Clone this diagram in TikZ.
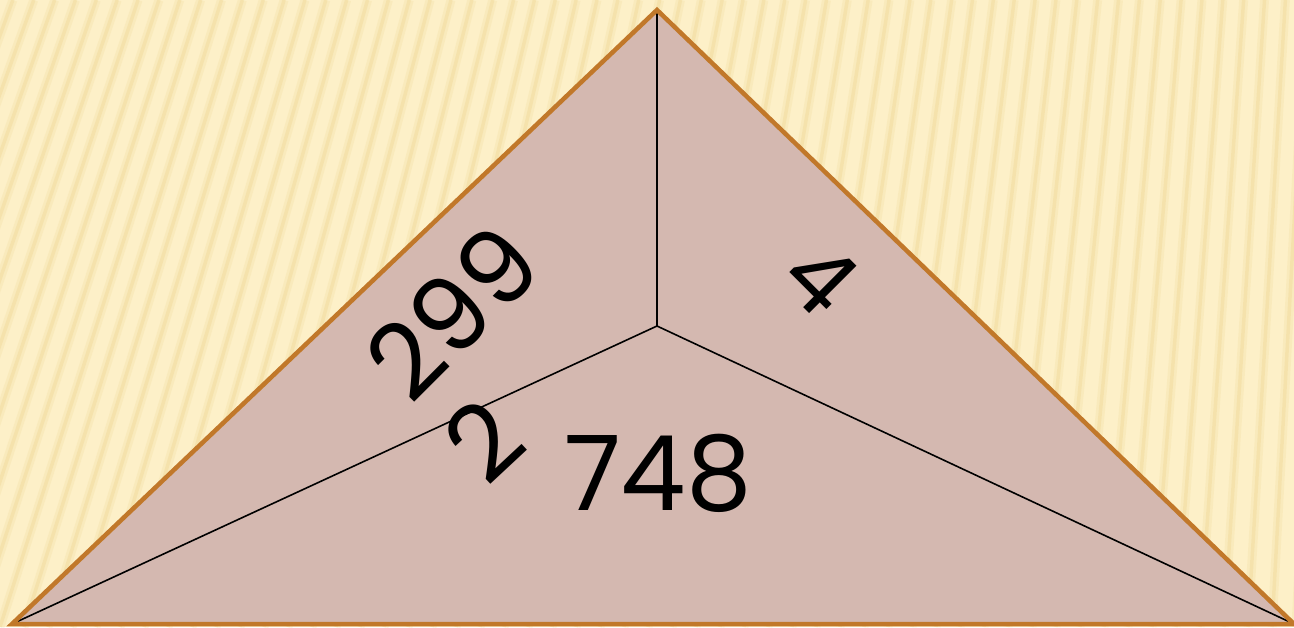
\documentclass[tikz,border=0pt]{standalone}
\usepackage{fontspec}
\setmainfont{Poppins}
\definecolor{bgbase}{RGB}{253,240,200}
\definecolor{stripe}{RGB}{236,210,138}
\definecolor{face}{RGB}{212,184,176}
\definecolor{edge}{RGB}{193,120,42}
\tikzset{
  numtext/.style={font=\fontsize{104}{104}\selectfont, text=black, inner sep=0pt},
  innerline/.style={black, line width=1.6pt},
  rim/.style={edge, line width=4.5pt, line join=miter},
  softstripe/.style={stripe, line width=9pt, opacity=0.18},
  corestripe/.style={stripe, line width=3.5pt, opacity=0.3}
}
\begin{document}
\begin{tikzpicture}[x=1pt,y=-1pt]
\useasboundingbox (0,0) rectangle (1294,627);
\begin{scope}
  \clip (0,0) rectangle (1294,627);
  \fill[bgbase] (0,0) rectangle (1294,627);
  \foreach \i in {-10,...,56} {
    \pgfmathsetmacro\xb{\i*24}
    \pgfmathsetmacro\xt{\xb+627*(0.32-0.27*\xb/1294)}
    \draw[softstripe] (\xb,627) -- (\xt,0);
    \draw[corestripe] (\xb,627) -- (\xt,0);
  }
\end{scope}
\coordinate (A) at (657,10);
\coordinate (B) at (12,624);
\coordinate (C) at (1294,624);
\coordinate (O) at (657,326);
\fill[face] (A) -- (B) -- (C) -- cycle;
\draw[innerline] (O) -- (A) (O) -- (B) (O) -- (C);
\draw[rim] (A) -- (B) -- (C) -- cycle;
\node[numtext, rotate=45] (t299) at (452,312) {299};
\node[numtext, rotate=43] (t2) at (483,440) {2};
\node[numtext, rotate=-45, scale=0.9] (t4) at (821,278) {4};
\node[numtext] (t748) at (658,473) {748};
\end{tikzpicture}
\end{document}
